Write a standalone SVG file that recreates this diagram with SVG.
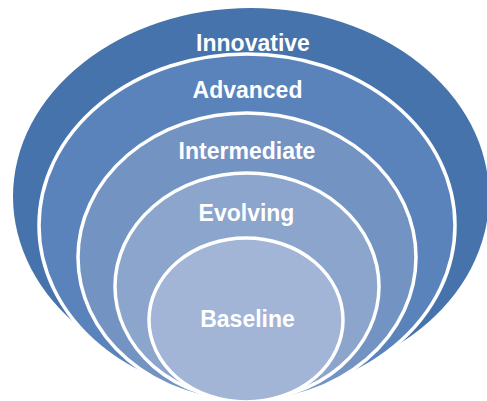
<svg xmlns="http://www.w3.org/2000/svg" width="487" height="401" viewBox="0 0 487 401">
  <style>
    .ring { stroke: #ffffff; stroke-width: 3.5; }
    .lbl { font-family: "Liberation Sans", Arial, sans-serif; font-weight: bold; font-size: 23px; fill: #ffffff; text-anchor: middle; }
  </style>
  <rect width="487" height="401" fill="#ffffff"/>
  <g id="innovative">
    <ellipse cx="251" cy="196.5" rx="238" ry="188.5" fill="#4673AB"/>
    <text class="lbl" x="253" y="51">Innovative</text>
  </g>
  <g id="advanced">
    <ellipse class="ring" cx="247" cy="225.4" rx="208" ry="171.4" fill="#5A83BC"/>
    <text class="lbl" x="247.5" y="98">Advanced</text>
  </g>
  <g id="intermediate">
    <ellipse class="ring" cx="247" cy="257.3" rx="169" ry="144.3" fill="#7393C3"/>
    <text class="lbl" x="247" y="159">Intermediate</text>
  </g>
  <g id="evolving">
    <ellipse class="ring" cx="247" cy="286.4" rx="132" ry="113.4" fill="#8BA5CC"/>
    <text class="lbl" x="246.5" y="221">Evolving</text>
  </g>
  <g id="baseline">
    <ellipse class="ring" cx="246" cy="320" rx="97" ry="82" fill="#A2B5D6"/>
    <text class="lbl" x="247.5" y="327">Baseline</text>
  </g>
  <g id="connectors"/>
</svg>
